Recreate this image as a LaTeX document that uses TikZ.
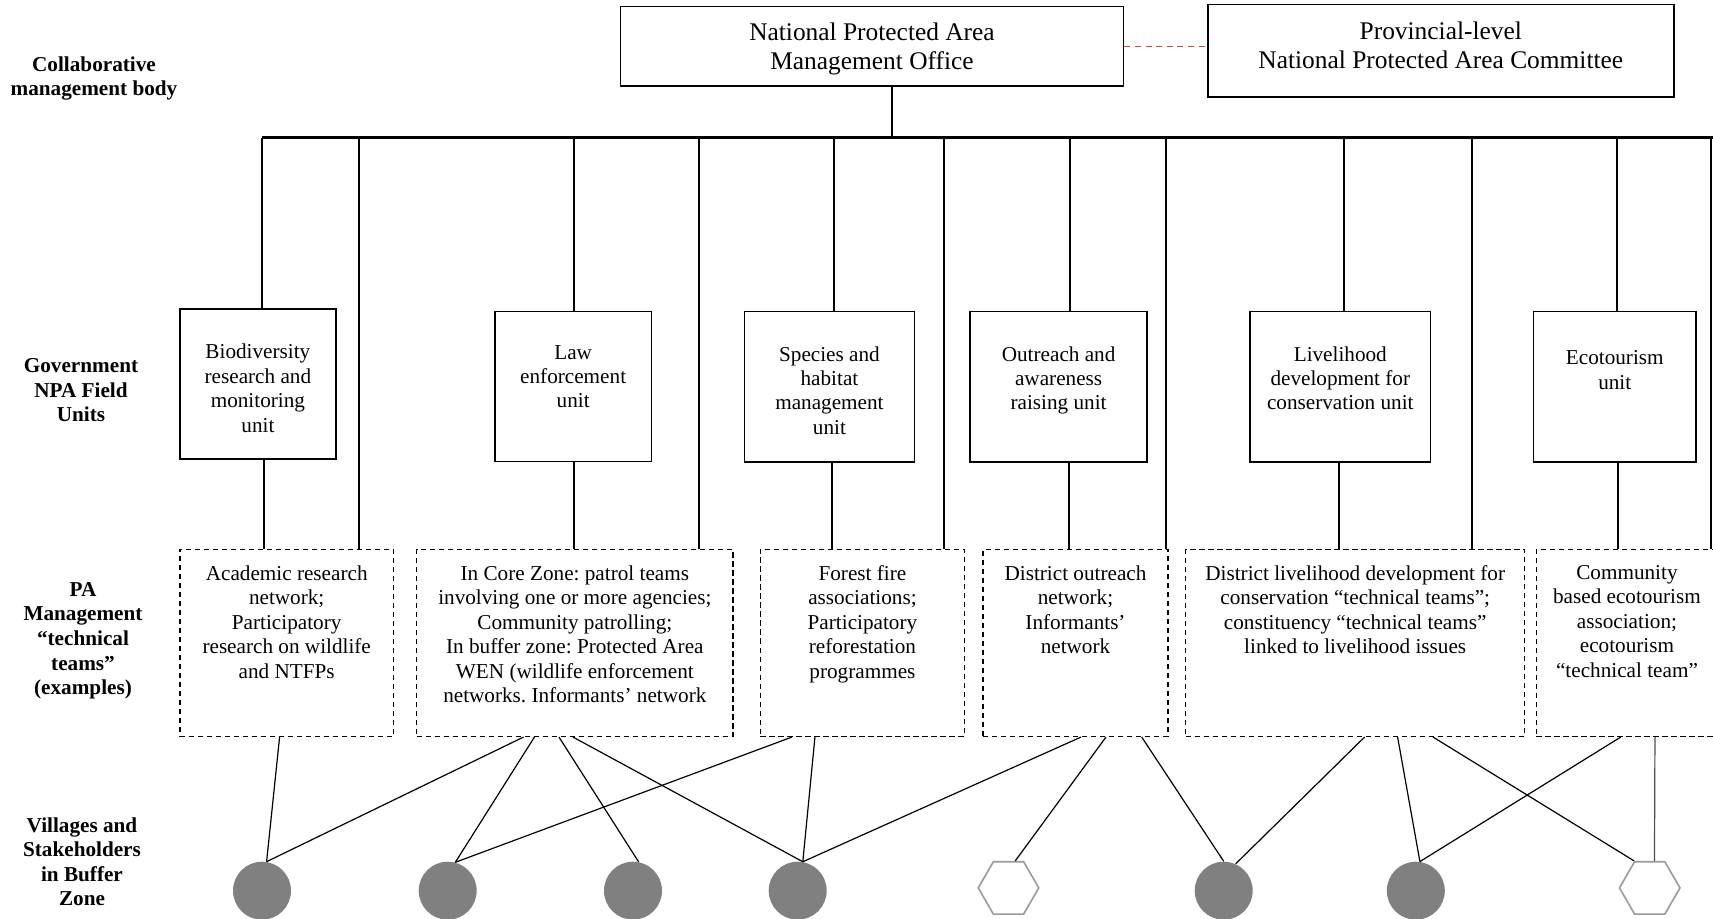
\documentclass[tikz,border=0pt]{standalone}
\usepackage{fontspec}
\setmainfont{Liberation Serif}
\usetikzlibrary{shapes.geometric,calc}
\definecolor{vgray}{HTML}{808080}
\definecolor{hgray}{HTML}{9A9A9A}
\definecolor{redd}{HTML}{D9403A}
\frenchspacing
\begin{document}
\begin{tikzpicture}[x=0.5pt,y=-0.5pt,
  solidbox/.style={draw, line width=0.8pt, inner sep=0pt},
  dbox/.style={draw, line width=0.75pt, dash pattern=on 2.6pt off 1.9pt, inner sep=0pt},
  toptext/.style={anchor=north, align=center, inner sep=0pt, font=\fontsize{12.7}{14.75}\selectfont},
  unittext/.style={anchor=north, align=center, inner sep=0pt, font=\fontsize{10.6}{12.2}\selectfont},
  teamtext/.style={anchor=north, align=center, inner sep=0pt, font=\fontsize{10.6}{12.25}\selectfont},
  lefttext/.style={anchor=north, align=center, inner sep=0pt, font=\bfseries\fontsize{10.6}{12.3}\selectfont},
  trunk/.style={line width=1pt},
  busline/.style={line width=1.2pt},
  link/.style={line width=0.6pt},
  reddash/.style={draw=redd, line width=0.7pt, dash pattern=on 3pt off 2.3pt},
  village/.style={circle, fill=vgray, minimum size=29pt, inner sep=0pt},
  hexv/.style={regular polygon, regular polygon sides=6, draw=hgray, line width=0.8pt, minimum size=30.25pt, inner sep=0pt},
]
\useasboundingbox (0,0) rectangle (1713,919);
\clip (0,0) rectangle (1713,919);

% left labels
\node[lefttext] (l1) at (94,56) {Collaborative\\management body};
\node[lefttext] (l2) at (81,358) {Government\\NPA Field\\Units};
\node[lefttext] (l3) at (83,582) {PA\\Management\\“technical\\teams”\\(examples)};
\node[lefttext] (l4) at (82,817) {Villages and\\Stakeholders\\in Buffer\\Zone};

% top boxes
\node[solidbox, minimum width=251.45pt, minimum height=39.65pt] (o) at (872.05,46.35) {};
\node[toptext] (otx) at (872,22.2) {National Protected Area\\Management Office};
\node[solidbox, minimum width=233.1pt, minimum height=46.3pt] (p) at (1440.8,51) {};
\node[toptext] (ptx) at (1440.8,21.1) {Provincial-level\\National Protected Area Committee};
\draw[reddash] (o.east) -- (o.east -| p.west);

% units
\node[solidbox, minimum width=78.1pt, minimum height=75.15pt] (u1) at (257.9,384.15) {};
\node[unittext] (u1t) at (257.9,343.7) {Biodiversity\\research and\\monitoring\\unit};
\node[solidbox, minimum width=78.15pt, minimum height=75pt] (u2) at (573.15,386.7) {};
\node[unittext] (u2t) at (573.15,344.8) {Law\\enforcement\\unit};
\node[solidbox, minimum width=84.95pt, minimum height=75.15pt] (u3) at (829.45,386.85) {};
\node[unittext] (u3t) at (829.45,345.9) {Species and\\habitat\\management\\unit};
\node[solidbox, minimum width=88.6pt, minimum height=75.3pt] (u4) at (1058.6,387) {};
\node[unittext] (u4t) at (1058.6,345.9) {Outreach and\\awareness\\raising unit};
\node[solidbox, minimum width=90.3pt, minimum height=75.3pt] (u5) at (1340.3,387) {};
\node[unittext] (u5t) at (1340.3,345.9) {Livelihood\\development for\\conservation unit};
\node[solidbox, minimum width=81.25pt, minimum height=75.3pt] (u6) at (1614.75,387) {};
\node[unittext] (u6t) at (1614.75,350.2) {Ecotourism\\unit};

% technical teams
\node[dbox, minimum width=106.9pt, minimum height=93.4pt] (d1) at (286.7,642.9) {};
\node[teamtext] (d1t) at (286.7,565) {Academic research\\network;\\Participatory\\research on wildlife\\and NTFPs};
\node[dbox, minimum width=158.15pt, minimum height=93.4pt] (d2) at (574.85,642.9) {};
\node[teamtext] (d2t) at (574.85,565) {In Core Zone: patrol teams\\involving one or more agencies;\\Community patrolling;\\In buffer zone: Protected Area\\WEN (wildlife enforcement\\networks. Informants’ network};
\node[dbox, minimum width=102.05pt, minimum height=93.4pt] (d3) at (862.45,642.9) {};
\node[teamtext] (d3t) at (862.45,565) {Forest fire\\associations;\\Participatory\\reforestation\\programmes};
\node[dbox, minimum width=92.5pt, minimum height=93.4pt] (d4) at (1075.5,642.9) {};
\node[teamtext] (d4t) at (1075.5,565) {District outreach\\network;\\Informants’\\network};
\node[dbox, minimum width=169.5pt, minimum height=93.4pt] (d5) at (1355.2,642.9) {};
\node[teamtext] (d5t) at (1355.2,565) {District livelihood development for\\conservation “technical teams”;\\constituency “technical teams”\\linked to livelihood issues};
\node[dbox, minimum width=90.65pt, minimum height=93.4pt] (d6) at (1626.95,642.9) {};
\node[teamtext] (d6t) at (1626.95,565) {Community\\based ecotourism\\association;\\ecotourism\\“technical team”};

% villages
\node[village] (c1) at (262,890.7) {};
\node[village] (c2) at (447.7,890.7) {};
\node[village] (c3) at (633,890.7) {};
\node[village] (c4) at (797.7,890.7) {};
\node[hexv] (h1) at (1008.5,887.9) {};
\node[village] (c5) at (1223.7,890.7) {};
\node[village] (c6) at (1415.8,890.7) {};
\node[hexv] (h2) at (1649.7,887.9) {};

% bus and trunk lines
\coordinate (busL) at (262,137.7);
\coordinate (busR) at (1713,137.7);
\draw[busline] (busL) -- (busR);
\path (o.south) ++(19.5,0) coordinate (odrop);
\draw[trunk] (odrop) -- (odrop |- busL);

\path (u1.north) ++(4.1,0) coordinate (u1a);
\path (u2.north) ++(0.4,0) coordinate (u2a);
\path (u3.north) ++(4.5,0) coordinate (u3a);
\path (u4.north) ++(11.4,0) coordinate (u4a);
\path (u5.north) ++(3.5,0) coordinate (u5a);
\path (u6.north) ++(2.2,0) coordinate (u6a);
\foreach \u in {u1a,u2a,u3a,u4a,u5a,u6a}{\draw[trunk] (\u) -- (\u |- busL);}

\path (u1.south) ++(6,0) coordinate (u1b);
\path (u2.south) ++(0.4,0) coordinate (u2b);
\path (u3.south) ++(3,0) coordinate (u3b);
\path (u4.south) ++(10,0) coordinate (u4b);
\path (u5.south) ++(-1,0) coordinate (u5b);
\path (u6.south) ++(3.2,0) coordinate (u6b);
\draw[trunk] (u1b) -- (u1b |- d1.north);
\draw[trunk] (u2b) -- (u2b |- d2.north);
\draw[trunk] (u3b) -- (u3b |- d3.north);
\draw[trunk] (u4b) -- (u4b |- d4.north);
\draw[trunk] (u5b) -- (u5b |- d5.north);
\draw[trunk] (u6b) -- (u6b |- d6.north);

\coordinate (x1) at (359.4,137.7);
\coordinate (x2) at (699,137.7);
\coordinate (x3) at (944.3,137.7);
\coordinate (x4) at (1165.6,137.7);
\coordinate (x5) at (1471.8,137.7);
\coordinate (x6) at (1710.5,137.7);
\draw[trunk] (x1) -- (x1 |- d1.north);
\draw[trunk] (x2) -- (x2 |- d2.north);
\draw[trunk] (x3) -- (x3 |- d3.north);
\draw[trunk] (x4) -- (x4 |- d4.north);
\draw[trunk] (x5) -- (x5 |- d5.north);
\draw[trunk] (x6) -- (x6 |- d6.north);

% links to villages
\draw[link] ($(d1.south)+(-7.1,0)$) -- (c1.81);
\draw[link] ($(d2.south)+(-51.3,0)$) -- (c1.81);
\draw[link] ($(d2.south)+(-40.4,0)$) -- (c2.75);
\draw[link] ($(d2.south)+(-15.9,0)$) -- (c3.79);
\draw[link] ($(d2.south)+(-1.9,0)$) -- (c4.80);
\draw[link] ($(d3.south)+(-70.5,0)$) -- (c2.75);
\draw[link] ($(d3.south)+(-47.5,0)$) -- (c4.80);
\draw[link] ($(d4.south)+(5.5,0)$) -- (c4.80);
\draw[link] ($(d4.south)+(30.5,0)$) -- (h1.76);
\draw[link] ($(d4.south)+(66.2,0)$) -- (c5.90);
\draw[link] ($(d5.south)+(9.4,0)$) -- (c5.66);
\draw[link] ($(d5.south)+(42.4,0)$) -- (c6.82);
\draw[link] ($(d5.south)+(77.8,0)$) -- (h2.120);
\draw[link] ($(d6.south)+(-6.2,0)$) -- (c6.82);
\draw[link, draw=black!70] ($(d6.south)+(28,0)$) -- (h2.80);
\end{tikzpicture}
\end{document}
